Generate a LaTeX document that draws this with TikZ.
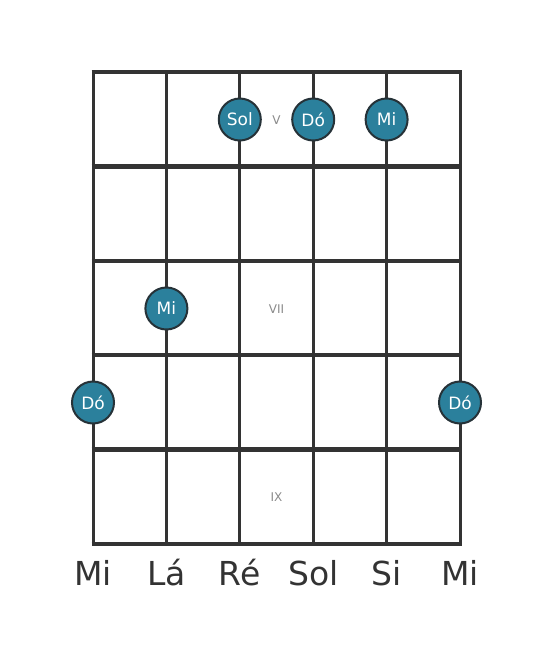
\documentclass[tikz,border=0pt]{standalone}
\usepackage{fontspec}
\setmainfont{DejaVu Sans}
\definecolor{gridc}{HTML}{333333}
\definecolor{dotfill}{HTML}{2B809C}
\definecolor{dotedge}{HTML}{263238}
\definecolor{numc}{HTML}{8A8A8A}
\begin{document}
\begin{tikzpicture}[x=1pt,y=-1pt,
  stringline/.style={draw=gridc,line width=3pt},
  fretline/.style={draw=gridc,line width=4.5pt},
  notedot/.style={circle,fill=dotfill,draw=dotedge,line width=2pt,minimum size=42pt,inner sep=0pt,text=white,font=\fontsize{17}{19}\selectfont},
  fretnum/.style={text=numc,font=\fontsize{12}{14}\selectfont},
  strname/.style={text=gridc,font=\fontsize{33}{38}\selectfont}]
\useasboundingbox (0,0) rectangle (553,656);
\foreach \i/\x in {1/93,2/166.4,3/239.8,4/313.2,5/386.6,6/460}{
  \coordinate (s\i t) at (\x,72);
  \coordinate (s\i b) at (\x,544);
  \draw[stringline] (s\i t) -- (s\i b);
}
\foreach \j/\y in {0/72,1/166.4,2/260.8,3/355.2,4/449.6,5/544}{
  \coordinate (f\j l) at (91.5,\y);
  \coordinate (f\j r) at (461.5,\y);
  \draw[fretline] (f\j l) -- (f\j r);
}
\node[fretnum] (nV) at (276.5,120) {V};
\node[fretnum] (nVII) at (276.5,309) {VII};
\node[fretnum] (nIX) at (276.5,497.5) {IX};
\node[notedot] (d1) at (239.8,119.5) {Sol};
\node[notedot] (d2) at (313.2,119.5) {Dó};
\node[notedot] (d3) at (386.6,119.5) {Mi};
\node[notedot] (d4) at (166.4,308.5) {Mi};
\node[notedot] (d5) at (93,402.5) {Dó};
\node[notedot] (d6) at (460,402.5) {Dó};
\node[strname] (l1) at (93,573) {Mi};
\node[strname] (l2) at (166.4,573) {Lá};
\node[strname] (l3) at (239.8,573) {Ré};
\node[strname] (l4) at (313.2,573) {Sol};
\node[strname] (l5) at (386.6,573) {Si};
\node[strname] (l6) at (460,573) {Mi};
\end{tikzpicture}
\end{document}
